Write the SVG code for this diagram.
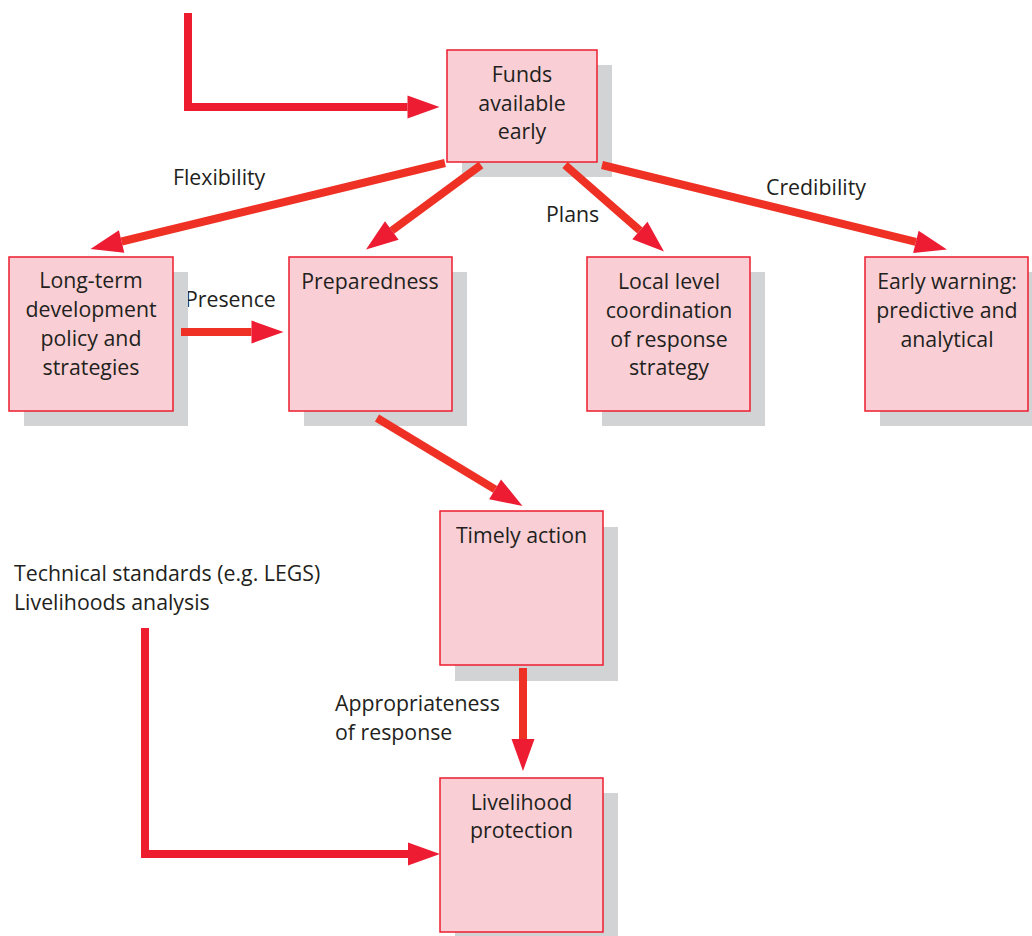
<svg xmlns="http://www.w3.org/2000/svg" width="1032" height="936" viewBox="0 0 1032 936">
<style>
.shadow{fill:#d1d3d4}
.box{fill:#f9cfd5;stroke:#ed1c2e;stroke-width:1.5}
text{font-family:"Open Sans","Liberation Sans",sans-serif;font-size:21.3px;fill:#231f20}
.c{text-anchor:middle}
.ln{fill:none;stroke:#ee3124;stroke-width:8;stroke-linejoin:miter}
.lr{fill:none;stroke:#ed1c2e;stroke-width:8;stroke-linejoin:miter;stroke-miterlimit:10}
</style>
<defs>
<marker id="ah" markerUnits="userSpaceOnUse" markerWidth="33" markerHeight="24" refX="0" refY="11.5" orient="auto" overflow="visible">
<path d="M0,0 L32,11.5 L0,23 Z" fill="#ed1c33"/>
</marker>
</defs>
<g id="labels">
<text x="173" y="185">Flexibility</text>
<text x="185" y="307">Presence</text>
<text x="546" y="222">Plans</text>
<text x="766" y="195">Credibility</text>
<text x="335" y="711">Appropriateness</text>
<text x="335" y="740">of response</text>
<text x="14" y="581">Technical standards (e.g. LEGS)</text>
<text x="14" y="610">Livelihoods analysis</text>
</g>
<g id="funds">
<rect class="shadow" x="462" y="65" width="150" height="112"/>
<rect class="box" x="447" y="50" width="150" height="112"/>
<text class="c" x="522" y="82">Funds</text>
<text class="c" x="522" y="110.5">available</text>
<text class="c" x="522" y="139">early</text>
</g>
<g id="longterm">
<rect class="shadow" x="24" y="272" width="164" height="154"/>
<rect class="box" x="9" y="257" width="164" height="154"/>
<text class="c" x="91" y="288">Long-term</text>
<text class="c" x="91" y="317">development</text>
<text class="c" x="91" y="346">policy and</text>
<text class="c" x="91" y="375">strategies</text>
</g>
<g id="preparedness">
<rect class="shadow" x="304" y="272" width="163" height="154"/>
<rect class="box" x="289" y="257" width="163" height="154"/>
<text class="c" x="370" y="289">Preparedness</text>
</g>
<g id="local">
<rect class="shadow" x="602" y="272" width="163" height="154"/>
<rect class="box" x="587" y="257" width="163" height="154"/>
<text class="c" x="669" y="289">Local level</text>
<text class="c" x="669" y="318">coordination</text>
<text class="c" x="669" y="347">of response</text>
<text class="c" x="669" y="375">strategy</text>
</g>
<g id="earlywarning">
<rect class="shadow" x="880" y="272" width="163" height="154"/>
<rect class="box" x="865" y="257" width="163" height="154"/>
<text class="c" x="947" y="289">Early warning:</text>
<text class="c" x="947" y="318">predictive and</text>
<text class="c" x="947" y="347">analytical</text>
</g>
<g id="timely">
<rect class="shadow" x="455" y="527" width="163" height="154"/>
<rect class="box" x="440" y="511" width="163" height="154"/>
<text class="c" x="521.5" y="543">Timely action</text>
</g>
<g id="livelihood">
<rect class="shadow" x="455" y="793" width="163" height="154"/>
<rect class="box" x="440" y="778" width="163" height="154"/>
<text class="c" x="521.5" y="810">Livelihood</text>
<text class="c" x="521.5" y="838">protection</text>
</g>
<g id="connectors">
<path class="lr" d="M188,13 V107 H407.5" marker-end="url(#ah)"/>
<path class="ln" d="M445,163 L121.6,241.5" marker-end="url(#ah)"/>
<path class="ln" d="M481,165 L391.8,230.6" marker-end="url(#ah)"/>
<path class="ln" d="M565,165 L639.9,230.5" marker-end="url(#ah)"/>
<path class="ln" d="M602,165 L915.9,241.9" marker-end="url(#ah)"/>
<path class="ln" d="M181,332 H251.5" marker-end="url(#ah)"/>
<path class="ln" d="M377,418 L495.1,489.4" marker-end="url(#ah)"/>
<path class="ln" d="M523,668 V739" marker-end="url(#ah)"/>
<path class="lr" d="M145,628 V854 H408" marker-end="url(#ah)"/>
</g>
</svg>
